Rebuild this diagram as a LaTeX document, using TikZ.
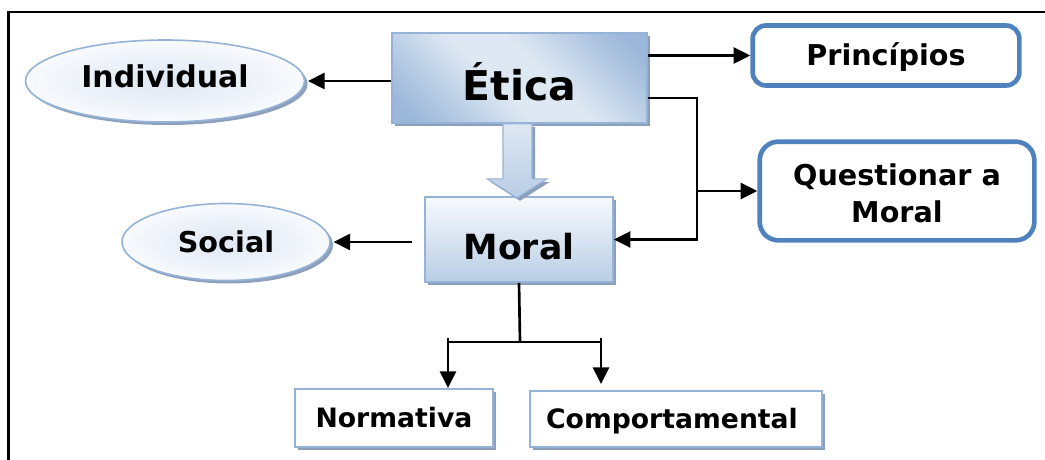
\documentclass[tikz,border=0pt]{standalone}
\usepackage{fontspec}
\setmainfont{DejaVu Sans}
\usetikzlibrary{arrows.meta,shadows,shapes.geometric}
\definecolor{lb}{RGB}{149,179,215}
\definecolor{db}{RGB}{79,129,189}
\definecolor{shc}{RGB}{140,160,188}
\definecolor{g1}{RGB}{222,232,243}
\definecolor{g2}{RGB}{155,183,218}
\definecolor{m1}{RGB}{247,250,253}
\definecolor{m2}{RGB}{185,205,229}
\definecolor{e1}{RGB}{221,231,243}
\definecolor{e2}{RGB}{248,250,253}
\pgfdeclarehorizontalshading{eticash}{100bp}{color(0bp)=(g2); color(20bp)=(g2); color(44bp)=(g1); color(56bp)=(g1); color(80bp)=(g2); color(100bp)=(g2)}
\begin{document}
\begin{tikzpicture}[x=0.75pt,y=-0.75pt,
  shd/.style={drop shadow={shadow xshift=2.25pt,shadow yshift=-2.25pt,fill=shc,opacity=1}},
  arr/.style={line width=2pt,-{Triangle[length=12.5pt,width=12pt]}},
  ln/.style={line width=2pt},
  ell/.style={ellipse,draw=lb,line width=1.2pt,inner color=e1,outer color=e2,shd,inner sep=0pt,
    font=\fontsize{21.5}{26}\selectfont\bfseries,text height=15.7pt,text depth=0pt},
  bluebox/.style={draw=lb,line width=1.2pt,shd,inner sep=0pt},
  roundbox/.style={draw=db,line width=3.5pt,rounded corners=10pt,fill=white,inner sep=0pt,
    font=\fontsize{21.5}{27.75}\selectfont\bfseries,text height=15.7pt,text depth=0pt,align=center},
  leafbox/.style={draw=lb,line width=1.5pt,fill=white,shd,inner sep=0pt,
    font=\fontsize{20}{24}\selectfont\bfseries,text height=14.6pt,text depth=0pt}
]
\useasboundingbox (0,0) rectangle (1045,460);
% frame
\draw[line width=1.6pt] (8.5,460) -- (8.5,12) -- (1045,12);

% nodes
\node[ell,minimum width=209.25pt,minimum height=61.5pt,text depth=6.75pt,
  font=\fontsize{22.5}{26}\selectfont\bfseries,text height=16.4pt] (individual) at (165,81) {Individual};
\node[ell,minimum width=156pt,minimum height=57.75pt] (social) at (226,242) {Social};
\node[bluebox,minimum width=191.25pt,minimum height=67.5pt,
  shading=eticash,shading angle=45,
  font=\fontsize{30.75}{36}\selectfont\bfseries,text height=34.4pt,text depth=0pt] (etica) at (519.5,78) {Ética};
\node[bluebox,minimum width=141pt,minimum height=63.75pt,top color=m1,bottom color=m2,
  font=\fontsize{26}{30}\selectfont\bfseries,text height=29.45pt,text depth=0pt] (moral) at (519,239.5) {Moral};
\node[roundbox,minimum width=200pt,minimum height=45pt] (principios) at (886,55.5) {Princípios};
\node[roundbox,minimum width=206pt,minimum height=74pt,rounded corners=14pt,
  text height=47.2pt] (questionar) at (897,191) {Questionar a\\Moral};
\node[leafbox,minimum width=148.5pt,minimum height=43.5pt] (normativa) at (394,418) {Normativa};
\node[leafbox,minimum width=219pt,minimum height=42pt] (comport) at (676,419) {\hspace*{-6pt}Comportamental};

% fat arrow Etica -> Moral
\draw[draw=lb,line width=0.8pt,top color=g1,bottom color=m2,shd]
  ([shift={(-16.5,0)}]etica.south) -- ([shift={(12.5,0)}]etica.south)
  -- ([shift={(12.5,55)}]etica.south) -- ([shift={(27.5,55)}]etica.south)
  -- ([shift={(-2.5,74)}]etica.south) -- ([shift={(-32.5,55)}]etica.south)
  -- ([shift={(-16.5,55)}]etica.south) -- cycle;

% connectors
\draw[arr,shorten >=2pt] (etica.west |- individual.east) -- (individual.east);
\draw[arr,shorten <=9pt,shorten >=2pt] (moral.west |- social.east) -- (social.east);
\draw[arr] (etica.east |- principios.west) -- (principios.west);
\coordinate (j) at (697,98);
\draw[arr] (etica.east |- j) -- (j) |- (moral.east);
\draw[arr] (j |- questionar.west) -- (questionar.west);
\coordinate (k) at (520,342);
\coordinate (nl) at (448,338);
\coordinate (nr) at (601,338);
\draw[ln] (moral.south) -- (k);
\draw[ln] (nl |- k) -- (nr |- k);
\draw[arr] (nl) -- (nl |- normativa.north);
\draw[arr,shorten >=4.5pt] (nr) -- (nr |- comport.north);
\end{tikzpicture}
\end{document}
